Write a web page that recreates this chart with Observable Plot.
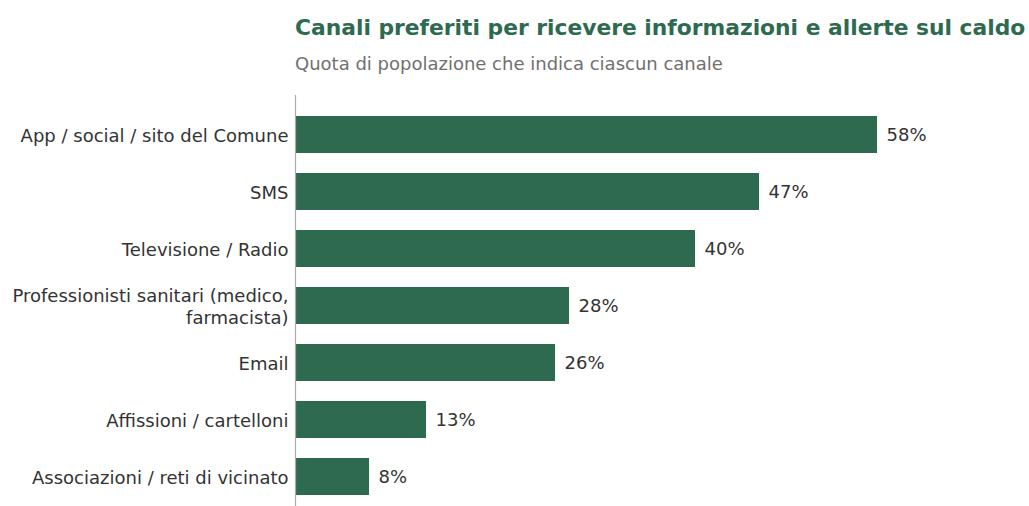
<!DOCTYPE html>
<html><head><meta charset="utf-8">
<script src="https://cdn.jsdelivr.net/npm/d3@7"></script>
<script src="https://cdn.jsdelivr.net/npm/@observablehq/plot@0.6"></script>
<style>
html,body{margin:0;padding:0;overflow:hidden;background:#fff;font-family:"DejaVu Sans",sans-serif;}
#title{position:absolute;left:295px;top:15px;font-size:21.8px;font-weight:bold;color:#2e6a4f;white-space:nowrap;}
#subtitle{position:absolute;left:295px;top:53px;font-size:18px;color:#707070;white-space:nowrap;}
#chart{position:absolute;left:0;top:84px;}
</style></head><body>
<div id="title">Canali preferiti per ricevere informazioni e allerte sul caldo</div>
<div id="subtitle">Quota di popolazione che indica ciascun canale</div>
<div id="chart"></div>
<script>
const categories = [
  "App / social / sito del Comune",
  "SMS",
  "Televisione / Radio",
  "Professionisti sanitari (medico,\nfarmacista)",
  "Email",
  "Affissioni / cartelloni",
  "Associazioni / reti di vicinato"
];
const values = [58.2, 46.4, 40.0, 27.4, 26.0, 13.1, 7.4];
const valueLabels = ["58%", "47%", "40%", "28%", "26%", "13%", "8%"];
const data = categories.map((c, i) => ({category: c, value: values[i], label: valueLabels[i]}));

const chart = Plot.plot({
  width: 1029,
  height: 432,
  marginTop: 11,
  marginBottom: 0,
  marginLeft: 295,
  marginRight: 0,
  style: {fontFamily: "DejaVu Sans", fontSize: "18px", background: "#fff"},
  x: {domain: [0, 73.4], axis: null},
  y: {domain: categories, padding: 0.35, axis: null},
  marks: [
    Plot.barX(data, {x: "value", y: "category", fill: "#2e6a4f"}),
    Plot.text(data, {x: "value", y: "category", text: "label", textAnchor: "start", dx: 9, fill: "#333", fontSize: 18}),
    Plot.axisY({tickSize: 0, tickPadding: 7, fill: "#333", fontSize: 18, lineHeight: 1.2, label: null}),
    Plot.ruleX([0], {stroke: "#aaa", strokeWidth: 1.2})
  ]
});
document.getElementById("chart").appendChild(chart);
</script>
</body></html>
